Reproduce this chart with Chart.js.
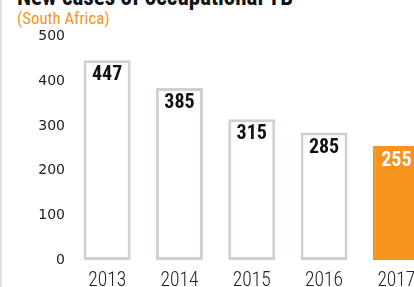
<!DOCTYPE html>
<html>
<head>
<meta charset="utf-8">
<script src="https://cdn.jsdelivr.net/npm/chart.js@4"></script>
<style>
  html, body { margin: 0; padding: 0; background: #fff; overflow: hidden; }
  body { width: 414px; height: 287px; position: relative; }
  .edge { position: absolute; left: 0; top: 0; width: 2px; height: 287px; background: #e3dfdc; z-index: 2; }
  .title { position: absolute; left: 17px; top: -14.4px; font: bold 23px "Roboto Condensed", sans-serif; line-height: 23px; color: #111; white-space: nowrap; }
  .subtitle { position: absolute; left: 17px; top: 9.9px; font: 16.8px "Roboto Condensed", sans-serif; line-height: 16.8px; color: #f7941d; white-space: nowrap; }
  #wrap { position: absolute; left: 0; top: 0; width: 440px; height: 310px; }
</style>
</head>
<body>
<div class="edge"></div>
<div class="title">New cases of occupational TB</div>
<div class="subtitle">(South Africa)</div>
<div id="wrap"><canvas id="myChart" width="440" height="310"></canvas></div>
<script>
const years = ["2013", "2014", "2015", "2016", "2017"];
const cases = [447, 385, 315, 285, 255];
const yTicks = [0, 100, 200, 300, 400, 500];

const orange = "#f7941d";
const grey = "#d4cfcc";

const fillColors = cases.map((v, i) => (i === cases.length - 1 ? orange : "#ffffff"));
const borderColors = cases.map((v, i) => (i === cases.length - 1 ? orange : grey));

// value printed just inside the top of each bar
const valueLabels = {
  id: "valueLabels",
  afterDatasetsDraw(chart) {
    const ctx = chart.ctx;
    const meta = chart.getDatasetMeta(0);
    ctx.save();
    ctx.font = "bold 20px 'Roboto Condensed', sans-serif";
    ctx.textAlign = "center";
    ctx.textBaseline = "alphabetic";
    meta.data.forEach((bar, i) => {
      ctx.fillStyle = i === cases.length - 1 ? "#ffffff" : "#111111";
      ctx.fillText(String(cases[i]), bar.x, bar.y + 20);
    });
    ctx.restore();
  },
};

const ctx = document.getElementById("myChart");

new Chart(ctx, {
  type: "bar",
  data: {
    labels: years,
    datasets: [
      {
        data: cases,
        backgroundColor: fillColors,
        borderColor: borderColors,
        borderWidth: 3,
        borderSkipped: false,
        barPercentage: 0.65,
        categoryPercentage: 1,
      },
    ],
  },
  options: {
    responsive: false,
    animation: false,
    devicePixelRatio: 1,
    layout: { padding: { top: 36.5, left: 0, right: 7.5, bottom: 8.6 } },
    plugins: {
      legend: { display: false },
      tooltip: { enabled: false },
    },
    scales: {
      x: {
        grid: { display: false, drawTicks: false },
        border: { display: false },
        ticks: {
          color: "#222",
          padding: 9,
          font: { family: "'Roboto Condensed', sans-serif", size: 19.5, weight: 300 },
        },
      },
      y: {
        min: 0,
        max: 500,
        afterFit(scale) {
          scale.width = 71;
        },
        afterBuildTicks(scale) {
          scale.ticks = yTicks.map((v) => ({ value: v }));
        },
        grid: { display: false, drawTicks: false },
        border: { display: false },
        ticks: {
          color: "#222",
          padding: 6,
          font: { family: "'DejaVu Sans', sans-serif", size: 14 },
        },
      },
    },
  },
  plugins: [valueLabels],
});
</script>
</body>
</html>
